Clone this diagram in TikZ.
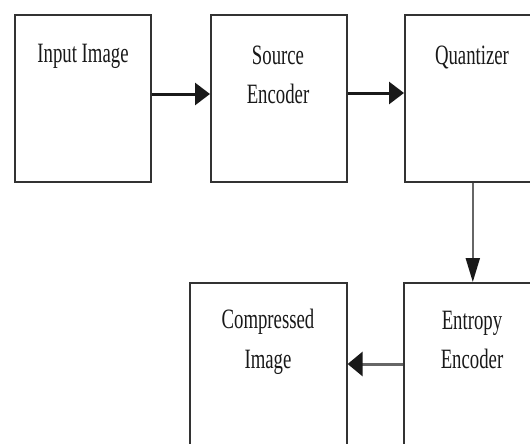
\documentclass[tikz,border=0pt]{standalone}
\usepackage{fontspec}
\setmainfont{Liberation Serif}
\usetikzlibrary{arrows.meta}
\newcommand{\sq}[1]{\scalebox{0.67}[1]{#1}}
\begin{document}
\begin{tikzpicture}[x=1pt,y=-1pt,
 blk/.style={draw=black!80,line width=1.6pt,minimum width=136pt,minimum height=167pt,inner sep=0pt,anchor=north west},
 txt/.style={font=\fontsize{28}{40}\selectfont,text=black!90,anchor=base,inner sep=0pt},
 arr/.style={line width=3pt,draw=black!90,-{Triangle[length=15pt,width=22pt]}},
 garr/.style={line width=2pt,draw=black!60,-{Triangle[length=24pt,width=14pt,color=black!90]}}]
\useasboundingbox (0,0) rectangle (530,444);
\clip (0,0) rectangle (530,444);
\node[blk] (in) at (14,14) {};
\node[blk] (src) at (210,14) {};
\node[blk] (qz) at (404,14) {};
\node[blk] (ent) at (403,282) {};
\node[blk,minimum width=157pt] (cmp) at (189,282) {};
\node[txt] (t1) at (83,63) {\sq{Input Image}};
\node[txt] (t2) at (278,64) {\sq{Source}};
\node[txt] (t3) at (278,103) {\sq{Encoder}};
\node[txt] (t4) at (472,65) {\sq{Quantizer}};
\node[txt] (t5) at (268,328) {\sq{Compressed}};
\node[txt] (t6) at (268,368) {\sq{Image}};
\node[txt] (t7) at (472,329) {\sq{Entropy}};
\node[txt] (t8) at (472,368) {\sq{Encoder}};
\draw[arr] ([yshift=-80pt]in.north east) -- ([yshift=-80pt]src.north west);
\draw[arr] ([yshift=-79pt]src.north east) -- ([yshift=-79pt]qz.north west);
\draw[garr] (qz.south) -- (qz.south |- ent.north);
\draw[garr,line width=3pt,-{Triangle[length=15pt,width=24pt,color=black!90]}] ([yshift=-82pt]ent.north west) -- ([yshift=-82pt]ent.north west -| cmp.east);
\end{tikzpicture}
\end{document}
